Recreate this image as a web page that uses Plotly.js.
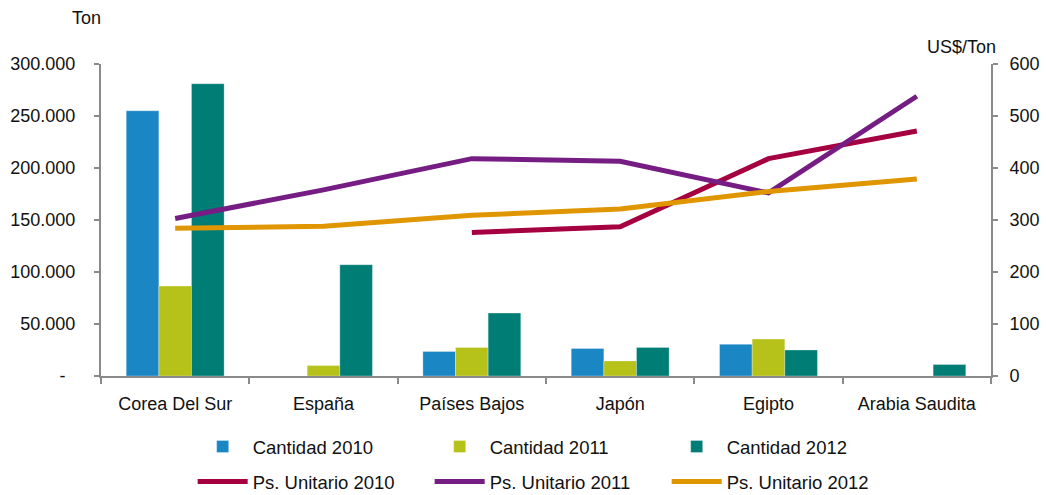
<!DOCTYPE html>
<html>
<head>
<meta charset="utf-8">
<script src="https://cdn.plot.ly/plotly-3.0.1.min.js"></script>
<style>
  html, body { margin: 0; padding: 0; background: #fff; }
  #chart { width: 1046px; height: 495px; }
</style>
</head>
<body>
<div id="chart"></div>
<script>
// countries on the x axis
const paises = ['Corea Del Sur', 'España', 'Países Bajos', 'Japón', 'Egipto', 'Arabia Saudita'];

// quantities (Ton), left axis
const cantidad2010 = [255000, null, 23500, 26500, 30500, null];
const cantidad2011 = [86500, 10000, 27500, 14500, 35500, null];
const cantidad2012 = [281000, 107000, 60500, 27500, 25000, 11000];

// unit prices (US$/Ton), right axis
const unitario2010 = [null, null, 276, 287, 418, 471];
const unitario2011 = [303, 358, 418, 413, 352, 538];
const unitario2012 = [284, 288, 309, 321, 355, 379];

// tick labels
const tonTicks = [0, 50000, 100000, 150000, 200000, 250000, 300000];
const tonLabels = ['-\u00a0\u00a0', '50.000', '100.000', '150.000', '200.000', '250.000', '300.000'];
const usdTicks = [0, 100, 200, 300, 400, 500, 600];

const fuente = 'Liberation Sans';
const gris = '#8a8a8a';
const tickFont = { family: fuente, size: 18, color: '#111' };

function barra(name, y, color) {
    return {
        type: 'bar', name: name, x: paises, y: y,
        marker: { color: color, line: { color: 'rgba(255,255,255,0.6)', width: 0.5 } },
        legend: 'legend', hoverinfo: 'y'
    };
}

function linea(name, y, color) {
    return {
        type: 'scatter', mode: 'lines', name: name, x: paises, y: y,
        yaxis: 'y2', connectgaps: false,
        line: { color: color, width: 5 },
        legend: 'legend2', hoverinfo: 'y'
    };
}

var data = [
    barra('Cantidad 2010', cantidad2010, '#1a86c4'),
    barra('Cantidad 2011', cantidad2011, '#b6c11a'),
    barra('Cantidad 2012', cantidad2012, '#007d75'),
    linea('Ps. Unitario 2010', unitario2010, '#a5003f'),
    linea('Ps. Unitario 2011', unitario2011, '#761d83'),
    linea('Ps. Unitario 2012', unitario2012, '#e09600')
];

var legendaBase = {
    orientation: 'h',
    xref: 'paper', x: 0.103, xanchor: 'left',
    yref: 'container', yanchor: 'middle',
    itemwidth: 50,
    entrywidth: 172,
    font: { family: fuente, size: 18.5, color: '#111' },
    bgcolor: 'rgba(0,0,0,0)',
    traceorder: 'normal'
};

var layout = {
    width: 1046, height: 495,
    margin: { l: 101, r: 55, t: 64, b: 119 },
    paper_bgcolor: '#fff', plot_bgcolor: '#fff',
    font: { family: fuente, size: 18, color: '#111' },
    barmode: 'group',
    bargap: 0.34,
    bargroupgap: 0,
    showlegend: true,
    legend: Object.assign({}, legendaBase, { y: 1 - 447 / 495 }),
    legend2: Object.assign({}, legendaBase, { y: 1 - 482 / 495 }),
    xaxis: {
        type: 'category',
        tickson: 'boundaries',
        ticks: 'outside', ticklen: 6, tickwidth: 2, tickcolor: gris,
        ticklabelstandoff: 10,
        showline: true, linecolor: gris, linewidth: 2,
        showgrid: false, zeroline: false,
        automargin: false,
        tickfont: tickFont
    },
    yaxis: {
        range: [0, 300000],
        tickvals: tonTicks, ticktext: tonLabels,
        ticks: 'outside', ticklen: 5, tickwidth: 2, tickcolor: gris,
        ticklabelstandoff: 15,
        showline: true, linecolor: gris, linewidth: 2,
        showgrid: false, zeroline: false,
        automargin: false,
        tickfont: tickFont
    },
    yaxis2: {
        overlaying: 'y', side: 'right',
        range: [0, 600],
        tickvals: usdTicks,
        ticks: 'outside', ticklen: 5, tickwidth: 2, tickcolor: gris,
        ticklabelstandoff: 8,
        showline: true, linecolor: gris, linewidth: 2,
        showgrid: false, zeroline: false,
        automargin: false,
        tickfont: tickFont
    },
    annotations: [
        { text: 'Ton', xref: 'paper', yref: 'paper', x: -0.016, y: 1.147,
          xanchor: 'center', yanchor: 'middle',
          showarrow: false, font: { family: fuente, size: 18, color: '#111' } },
        { text: 'US$/Ton', xref: 'paper', yref: 'paper', x: 0.967, y: 1.054,
          xanchor: 'center', yanchor: 'middle',
          showarrow: false, font: { family: fuente, size: 18, color: '#111' } }
    ]
};

Plotly.newPlot('chart', data, layout, { displayModeBar: false, staticPlot: true });
</script>
</body>
</html>
